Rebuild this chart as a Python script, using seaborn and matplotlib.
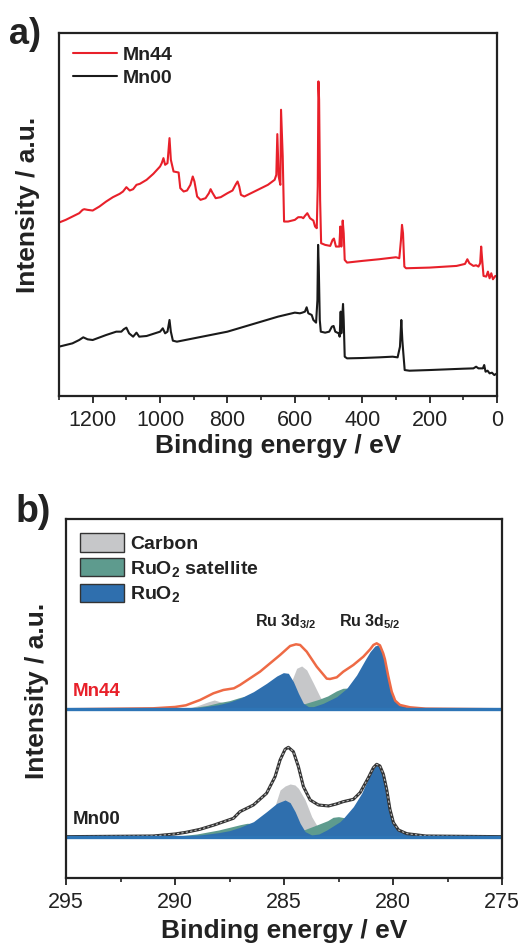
import numpy as np
import pandas as pd
import matplotlib
matplotlib.use("Agg")
import matplotlib.pyplot as plt
from matplotlib.ticker import MultipleLocator
from matplotlib.patches import Patch
import seaborn as sns

# ── survey spectra (panel a) ──────────────────────────────────
mn44_e = [1300, 1280, 1260, 1240, 1230, 1225, 1215, 1200, 1180, 1160, 1140, 1120, 1110, 1100,
          1090, 1080, 1070, 1060, 1040, 1020, 1000, 995, 990, 985, 978, 972, 968, 960, 945,
          940, 930, 920, 910, 903, 898, 890, 880, 865, 855, 850, 845, 835, 820, 800, 785,
          775, 770, 765, 760, 750, 730, 700, 680, 660, 655, 652, 648, 643, 641, 636, 632,
          620, 600, 590, 580, 575, 570, 563, 555, 545, 540, 535, 532, 530, 528, 525, 522,
          510, 495, 488, 484, 478, 468, 465, 462, 460, 458, 455, 452, 445, 400, 350, 300,
          290, 285, 282, 279, 275, 270, 200, 120, 95, 88, 82, 70, 62, 55, 50, 47, 44, 40,
          32, 27, 22, 17, 12, 5, 0]
mn44_i = [520, 528, 538, 548, 558, 560, 558, 556, 568, 583, 596, 606, 613, 626,
          616, 620, 633, 636, 648, 666, 688, 698, 713, 693, 698, 773, 708, 673, 670,
          623, 613, 616, 633, 658, 643, 598, 588, 593, 608, 620, 610, 593, 596, 608, 616,
          635, 643, 628, 603, 598, 608, 623, 633, 648, 663, 785, 658, 633, 858, 718, 523,
          523, 528, 536, 536, 533, 540, 548, 533, 526, 508, 503, 628, 943, 888, 588, 458,
          453, 450, 468, 472, 448, 448, 508, 448, 488, 526, 488, 408, 400, 405, 410, 416,
          413, 468, 513, 488, 388, 383, 385, 390, 396, 410, 398, 390, 392, 388, 398, 448, 408, 360,
          358, 373, 353, 368, 350, 360, 358]

mn00_e = [1300, 1260, 1240, 1228, 1215, 1200, 1160, 1130, 1115, 1108, 1100, 1092, 1080, 1070,
          1062, 1040, 1000, 992, 985, 978, 972, 968, 962, 950, 900, 850, 800, 750, 700,
          650, 600, 585, 578, 570, 565, 560, 550, 545, 537, 533, 531, 529, 526, 523, 510,
          498, 490, 485, 480, 470, 467, 464, 462, 460, 457, 455, 452, 445, 400, 350, 310,
          295, 288, 284, 281, 278, 274, 260, 200, 100, 70, 62, 55, 42, 38, 34, 28, 22, 15, 8, 0]
mn00_i = [148, 158, 168, 176, 170, 168, 183, 193, 193, 200, 205, 188, 178, 190,
          178, 180, 193, 203, 188, 193, 228, 193, 166, 163, 173, 183, 193, 208, 223,
          238, 250, 248, 250, 253, 266, 248, 243, 228, 220, 288, 453, 388, 228, 193, 190,
          193, 208, 210, 193, 188, 178, 253, 188, 228, 276, 228, 118, 113, 114, 116, 118,
          116, 148, 228, 168, 128, 78, 76, 78, 82, 83, 88, 83, 83, 93, 73, 76, 68, 70, 63, 68]

# ── Ru 3d / C 1s fits (panel b), heights above each baseline ──
base44 = 507
base00 = 125

env44_e = [295, 291, 290, 289.5, 288.85, 288.24, 287.78, 287.3, 287.02, 286.56, 286.1, 285.64,
           285.18, 284.72, 284.45, 284.26, 283.96, 283.5, 283.04, 282.89, 282.58, 282.28,
           281.82, 281.36, 281.05, 280.9, 280.75, 280.6, 280.45, 280.37, 280.22, 280.06,
           279.9, 279.68, 279.22, 278.5, 275]
env44_h = [0, 3, 7, 12, 28, 48, 58, 63, 73, 93, 113, 138, 163, 190, 195, 193, 173, 128, 92,
           91, 96, 113, 133, 158, 180, 193, 198, 192, 168, 150, 100, 53, 26, 13, 6, 2, 0]
ruo2_44_e = [295, 291, 290, 289.5, 288.85, 288, 287.5, 287.02, 286.4, 285.8, 285.33, 285.03,
             284.8, 284.57, 284.34, 284.11, 283.88, 283.65, 283.2, 282.58, 282.12, 281.67,
             281.28, 281.05, 280.83, 280.7, 280.52, 280.37, 280.22, 280.06, 279.9, 279.68,
             279.22, 278.5, 275]
ruo2_44_h = [0, 1, 2, 3, 6, 14, 22, 33, 53, 78, 100, 110, 108, 83, 48, 18, 8, 8, 18, 38, 63,
             103, 148, 173, 190, 193, 178, 148, 98, 53, 28, 13, 4, 1, 0]
carb44_e = [295, 289.5, 289, 288.5, 288.2, 287.8, 287.2, 286.5, 285.5, 285.0, 284.8, 284.57,
            284.42, 284.19, 283.96, 283.65, 283.35, 283.2, 282.9, 282.5, 275]
carb44_h = [0, 2, 10, 22, 28, 20, 6, 0, 4, 30, 60, 98, 123, 130, 118, 78, 38, 23, 6, 0, 0]
sat44_e = [295, 290, 289.5, 289, 288.5, 288, 287.5, 287, 286.5, 286, 285.5, 285, 284.5, 284.2,
           283.8, 283.4, 283, 282.6, 282.3, 282, 281.5, 281, 280.5, 280, 279.5, 275]
sat44_h = [0, 0, 3, 7, 12, 20, 26, 36, 42, 34, 15, 8, 8, 14, 22, 30, 40, 55, 63, 64, 55, 35,
           18, 6, 1, 0]

env00_e = [295, 291, 290, 289.5, 288.85, 288.2, 287.32, 287.02, 286.4, 285.8, 285.41, 285.18,
           284.95, 284.8, 284.57, 284.34, 284.11, 283.8, 283.42, 282.96, 282.6, 282.28,
           281.82, 281.51, 281.13, 280.9, 280.75, 280.6, 280.44, 280.29, 280.14, 279.98,
           279.75, 279.37, 278.5, 275]
env00_h = [0, 2, 8, 13, 22, 35, 55, 75, 95, 130, 180, 230, 262, 268, 255, 210, 150, 110, 95,
           92, 98, 105, 112, 132, 177, 207, 217, 212, 187, 142, 82, 42, 20, 9, 2, 0]
ruo2_00_e = [295, 291, 290, 289.5, 288.85, 288, 287.5, 287.02, 286.4, 285.8, 285.33, 284.95,
             284.72, 284.49, 284.26, 284.03, 283.73, 283.4, 283.04, 282.43, 282.28, 281.82,
             281.44, 281.13, 280.9, 280.75, 280.6, 280.44, 280.29, 280.14, 279.98, 279.75,
             279.37, 278.5, 275]
ruo2_00_h = [0, 1, 2, 3, 5, 12, 18, 28, 45, 75, 100, 110, 102, 75, 40, 15, 5, 8, 20, 45, 55,
             90, 130, 175, 205, 215, 210, 185, 140, 80, 40, 18, 8, 2, 0]
carb00_e = [295, 289.5, 289, 288.5, 288, 287, 286, 285.5, 285.18, 284.95, 284.72, 284.5,
            284.34, 284.03, 283.73, 283.42, 283.2, 282.9, 275]
carb00_h = [0, 0, 4, 10, 8, 2, 20, 75, 140, 152, 158, 155, 145, 110, 60, 25, 8, 0, 0]
sat00_e = [295, 290, 289, 288.5, 288, 287.5, 287, 286.7, 286.3, 285.8, 285.3, 284.8, 284.3,
           284.1, 283.5, 283, 282.75, 282.5, 282.25, 281.9, 281.5, 281, 280.5, 280, 279.5, 275]
sat00_h = [0, 1, 8, 14, 20, 28, 36, 40, 40, 28, 12, 8, 14, 20, 35, 48, 58, 60, 57, 45, 30, 16,
           8, 3, 0, 0]

C_RED = "#E8202A"
C_ENV44 = "#EE6A45"
C_BLUE = "#2F6FAE"
C_BASE = "#2E75B6"
C_GREEN = "#5E9B8E"
C_GRAY = "#C6C7C9"
C_INK = "#222222"

sns.set_theme(style="ticks")
plt.rcParams["font.family"] = ["Liberation Sans", "DejaVu Sans"]
plt.rcParams["mathtext.fontset"] = "custom"
plt.rcParams["mathtext.rm"] = "Liberation Sans:bold"
plt.rcParams["mathtext.bf"] = "Liberation Sans:bold"
plt.rcParams["mathtext.it"] = "Liberation Sans:bold"

fig = plt.figure(figsize=(5.23, 9.43), dpi=100)
ax1 = fig.add_axes([0.1128, 0.580, 0.8375, 0.385])
ax2 = fig.add_axes([0.1262, 0.0686, 0.8337, 0.3807])

for ax in (ax1, ax2):
    for s in ax.spines.values():
        s.set_linewidth(1.6)
        s.set_color(C_INK)
    ax.set_yticks([])
    ax.tick_params(axis="x", which="major", direction="out", length=5, width=1.3,
                   labelsize=15.5, pad=5, colors=C_INK)
    ax.tick_params(axis="x", which="minor", direction="out", length=3, width=1.2,
                   colors=C_INK)

# ── panel a ──
df44 = pd.DataFrame({"E": mn44_e, "I": mn44_i})
df00 = pd.DataFrame({"E": mn00_e, "I": mn00_i})
sns.lineplot(data=df44, x="E", y="I", ax=ax1, color=C_RED, lw=1.5, sort=False,
             estimator=None, label="Mn44")
sns.lineplot(data=df00, x="E", y="I", ax=ax1, color="#1a1a1a", lw=1.5, sort=False,
             estimator=None, label="Mn00")
ax1.set_xlim(1300, 0)
ax1.set_ylim(0, 1088)
ax1.xaxis.set_major_locator(MultipleLocator(200))
ax1.xaxis.set_minor_locator(MultipleLocator(100))
ax1.set_xlabel("Binding energy / eV", fontsize=19, fontweight="bold", labelpad=2,
               color=C_INK)
ax1.set_ylabel("")
leg = ax1.legend(loc="upper left", frameon=False, fontsize=14, handlelength=2.3,
                 handletextpad=0.3, labelspacing=0.25, borderaxespad=0.3)
for t in leg.get_texts():
    t.set_fontweight("bold")
    t.set_color(C_INK)

# ── panel b ──
ax2.set_xlim(295, 275)
ax2.set_ylim(0, 1077)
for base, carb_e, carb_h, sat_e, sat_h, ru_e, ru_h in [
        (base44, carb44_e, carb44_h, sat44_e, sat44_h, ruo2_44_e, ruo2_44_h),
        (base00, carb00_e, carb00_h, sat00_e, sat00_h, ruo2_00_e, ruo2_00_h)]:
    ax2.fill_between(carb_e, base, np.add(carb_h, base), color=C_GRAY, lw=0)
    ax2.fill_between(sat_e, base, np.add(sat_h, base), color=C_GREEN, lw=0)
    ax2.fill_between(ru_e, base, np.add(ru_h, base), color=C_BLUE, lw=0)

env44 = pd.DataFrame({"E": env44_e, "I": np.add(env44_h, base44)})
env00 = pd.DataFrame({"E": env00_e, "I": np.add(env00_h, base00)})
sns.lineplot(data=env44, x="E", y="I", ax=ax2, color=C_ENV44, lw=1.8, sort=False,
             estimator=None)
sns.lineplot(data=env00, x="E", y="I", ax=ax2, color="#333333", lw=2.2, sort=False,
             estimator=None)
sns.lineplot(data=env00, x="E", y="I", ax=ax2, color="#BBBBBB", lw=0.8, sort=False,
             estimator=None, linestyle=(0, (2, 2)))
for base in (base44, base00):
    ax2.plot([295, 275], [base, base], color=C_BASE, lw=2.4)

ax2.xaxis.set_major_locator(MultipleLocator(5))
ax2.xaxis.set_minor_locator(MultipleLocator(2.5))
ax2.set_xlabel("Binding energy / eV", fontsize=19, fontweight="bold", labelpad=4,
               color=C_INK)
ax2.set_ylabel("")

ax2.text(294.7, 560, "Mn44", color=C_RED, fontsize=13.5, fontweight="bold",
         ha="left", va="center")
ax2.text(294.7, 177, "Mn00", color=C_INK, fontsize=13.5, fontweight="bold",
         ha="left", va="center")
ax2.text(284.9, 770, r"Ru 3d$_{3/2}$", fontsize=11.5, fontweight="bold", ha="center",
         va="center", color=C_INK)
ax2.text(281.05, 770, r"Ru 3d$_{5/2}$", fontsize=11.5, fontweight="bold", ha="center",
         va="center", color=C_INK)

handles = [Patch(facecolor=C_GRAY, edgecolor="#333333", lw=1, label="Carbon"),
           Patch(facecolor=C_GREEN, edgecolor="#333333", lw=1, label=r"RuO$_2$ satellite"),
           Patch(facecolor=C_BLUE, edgecolor="#333333", lw=1, label=r"RuO$_2$")]
leg2 = ax2.legend(handles=handles, loc="upper left", frameon=False, fontsize=14,
                  handlelength=2.3, handleheight=1.1, handletextpad=0.3,
                  labelspacing=0.25, borderaxespad=0.3)
for t in leg2.get_texts():
    t.set_fontweight("bold")
    t.set_color(C_INK)

# y labels as figure text
fig.text(28 / 523, 1 - 205 / 943, "Intensity / a.u.", fontsize=19, fontweight="bold",
         rotation=90, ha="center", va="center", color=C_INK)
fig.text(37 / 523, 1 - 691 / 943, "Intensity / a.u.", fontsize=19, fontweight="bold",
         rotation=90, ha="center", va="center", color=C_INK)

fig.text(9 / 523, 1 - 17 / 943, "a)", fontsize=26, fontweight="bold", va="top", ha="left",
         color=C_INK)
fig.text(16 / 523, 1 - 494 / 943, "b)", fontsize=27, fontweight="bold", va="top", ha="left",
         color=C_INK)

fig.savefig("out.png", dpi=100)
